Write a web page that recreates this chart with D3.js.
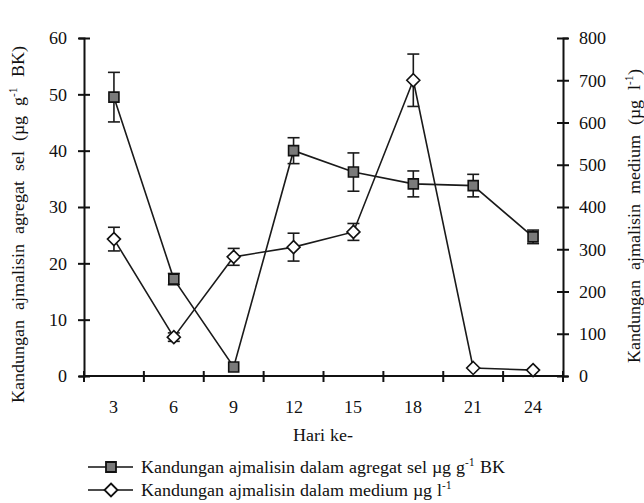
<!DOCTYPE html>
<meta charset="utf-8">
<script src="https://d3js.org/d3.v7.min.js"></script>
<style>
  @font-face { font-family: 'ChartSerif'; src: local('Liberation Serif'), local('LiberationSerif'), local('Times New Roman'); }
  body { margin: 0; background: #fff; }
  #chart svg, #chart svg text, #chart svg tspan { font-family: 'ChartSerif', 'Liberation Serif', 'Times New Roman', serif; }
</style>
<div id="chart"></div>
<script>
    // data
    var days = [3, 6, 9, 12, 15, 18, 21, 24];
    var agregat = [49.5, 17.2, 1.6, 40.0, 36.2, 34.1, 33.8, 24.7];    // µg g-1 BK
    var agregatErr = [4.4, 1.0, 0, 2.3, 3.4, 2.3, 2.0, 1.2];
    var medium = [324, 92, 282, 305, 341, 700, 19, 14];              // µg l-1
    var mediumErr = [28, 10, 20, 33, 20, 62, 0, 0];
    var leftTicks = [0, 10, 20, 30, 40, 50, 60];
    var rightTicks = [0, 100, 200, 300, 400, 500, 600, 700, 800];

    var width = 644,
        height = 503,
        plot = { left: 84, right: 563, top: 38, bottom: 376 };

    var svg = d3.select('#chart').append('svg')
        .attr('width', width)
        .attr('height', height);

    var x = d3.scaleBand()
        .domain(days)
        .range([plot.left, plot.right])
        .padding(0);
    var cx = d => x(d) + x.bandwidth() / 2;

    var yL = d3.scaleLinear().domain([0, 60]).range([plot.bottom, plot.top]);
    var yR = d3.scaleLinear().domain([0, 800]).range([plot.bottom, plot.top]);

    // left axis
    var gL = svg.append('g')
        .attr('transform', `translate(${plot.left},0)`)
        .call(d3.axisLeft(yL).tickValues(leftTicks).tickSize(5).tickPadding(12));
    gL.selectAll('.tick line').attr('x1', -6).attr('x2', 6);

    // right axis
    var gR = svg.append('g')
        .attr('transform', `translate(${plot.right},0)`)
        .call(d3.axisRight(yR).tickValues(rightTicks).tickSize(5).tickPadding(11));
    gR.selectAll('.tick line').attr('x1', -6).attr('x2', 6);

    // bottom axis: labels in the middle of each band, ticks on the band edges
    var gB = svg.append('g')
        .attr('transform', `translate(0,${plot.bottom})`)
        .call(d3.axisBottom(x).tickSize(0).tickPadding(24));
    gB.select('.domain').remove();
    gB.append('line')
        .attr('x1', plot.left).attr('x2', plot.right)
        .attr('stroke', '#111').attr('stroke-width', 2);
    var edges = days.map(d => x(d)).concat([x.range()[1]]);
    gB.selectAll('.edge').data(edges).enter().append('line')
        .attr('class', 'edge')
        .attr('x1', d => d).attr('x2', d => d)
        .attr('y1', -5).attr('y2', 6)
        .attr('stroke', '#111').attr('stroke-width', 2);

    [gL, gR, gB].forEach(g => g.attr('font-family', null).attr('font-size', 18));
    svg.selectAll('.domain').attr('stroke', '#111').attr('stroke-width', 2);
    svg.selectAll('.tick line').attr('stroke', '#111').attr('stroke-width', 2);

    // axis titles
    svg.append('text')
        .attr('x', 323).attr('y', 441)
        .attr('text-anchor', 'middle')
        .attr('font-size', 18)
        .text('Hari ke-');

    var tL = svg.append('text')
        .attr('transform', 'translate(24,224) rotate(-90)')
        .attr('text-anchor', 'middle')
        .attr('font-size', 18)
        .attr('word-spacing', 5);
    tL.append('tspan').text('Kandungan ajmalisin agregat sel (µg g');
    tL.append('tspan').attr('dy', -7).attr('font-size', 11).text('-1');
    tL.append('tspan').attr('dy', 7).text(' BK)');

    var tR = svg.append('text')
        .attr('transform', 'translate(640,216) rotate(-90)')
        .attr('text-anchor', 'middle')
        .attr('font-size', 18)
        .attr('word-spacing', 5);
    tR.append('tspan').text('Kandungan ajmalisin medium (µg l');
    tR.append('tspan').attr('dy', -7).attr('font-size', 11).text('-1');
    tR.append('tspan').attr('dy', 7).text(')');

    // draws one series with its error bars and markers
    function drawSeries(vals, errs, y, marker) {
        var pts = days.map((d, i) => ({ day: d, v: vals[i], e: errs[i] }));
        var g = svg.append('g');

        g.append('path')
            .datum(pts)
            .attr('fill', 'none')
            .attr('stroke', '#1a1a1a')
            .attr('stroke-width', 1.6)
            .attr('d', d3.line().x(d => cx(d.day)).y(d => y(d.v)));

        var eb = g.selectAll('.err').data(pts.filter(d => d.e > 0)).enter().append('g')
            .attr('stroke', '#1a1a1a').attr('stroke-width', 1.6);
        eb.append('line')
            .attr('x1', d => cx(d.day)).attr('x2', d => cx(d.day))
            .attr('y1', d => y(d.v - d.e)).attr('y2', d => y(d.v + d.e));
        eb.append('line')
            .attr('x1', d => cx(d.day) - 6).attr('x2', d => cx(d.day) + 6)
            .attr('y1', d => y(d.v + d.e)).attr('y2', d => y(d.v + d.e));
        eb.append('line')
            .attr('x1', d => cx(d.day) - 6).attr('x2', d => cx(d.day) + 6)
            .attr('y1', d => y(d.v - d.e)).attr('y2', d => y(d.v - d.e));

        g.selectAll('.mk').data(pts).enter().append('path')
            .attr('transform', d => `translate(${cx(d.day)},${y(d.v)})`)
            .attr('d', marker.d)
            .attr('fill', marker.fill)
            .attr('stroke', '#111')
            .attr('stroke-width', 1.6);
    }

    var squareMk = { d: 'M-5,-5H5V5H-5Z', fill: '#7a7a7a' };
    var diamondMk = { d: 'M0,-6.5L6.5,0L0,6.5L-6.5,0Z', fill: '#fff' };

    drawSeries(agregat, agregatErr, yL, squareMk);
    drawSeries(medium, mediumErr, yR, diamondMk);

    // legend
    var legend = [
        { mk: squareMk, y: 467, label: ['Kandungan ajmalisin dalam agregat sel µg g', '-1', ' BK'] },
        { mk: diamondMk, y: 490, label: ['Kandungan ajmalisin dalam medium µg l', '-1', ''] }
    ];
    var lg = svg.selectAll('.lg').data(legend).enter().append('g')
        .attr('transform', d => `translate(88,${d.y})`);
    lg.append('line')
        .attr('x1', 0).attr('x2', 45)
        .attr('stroke', '#111').attr('stroke-width', 1.4);
    lg.append('path')
        .attr('transform', 'translate(23,0)')
        .attr('d', d => d.mk.d)
        .attr('fill', d => d.mk.fill)
        .attr('stroke', '#111').attr('stroke-width', 1.8);
    var lt = lg.append('text')
        .attr('x', 53).attr('y', 6)
        .attr('font-size', 18);
    lt.append('tspan').text(d => d.label[0]);
    lt.append('tspan').attr('dy', -7).attr('font-size', 11).text(d => d.label[1]);
    lt.append('tspan').attr('dy', 7).text(d => d.label[2]);

    svg.selectAll('text').attr('fill', '#111');
</script>
